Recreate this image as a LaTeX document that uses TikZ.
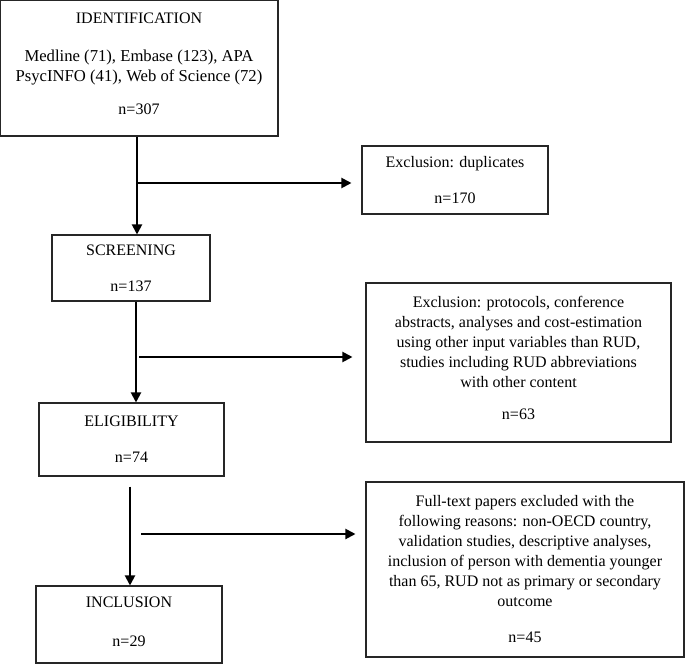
\documentclass[tikz,border=0pt]{standalone}
\usepackage{fontspec}
\setmainfont{Liberation Serif}
\usetikzlibrary{arrows.meta}

\begin{document}
\begin{tikzpicture}[x=0.75pt, y=-0.75pt]
  \tikzset{stage/.style = {rectangle, draw=black!85, line width=0.8pt, align=center,
                           inner sep=0pt, font=\fontsize{12}{15}\selectfont},
           flow/.style = {-{Triangle[width=7.5pt,length=7.5pt]}, line width=1.5pt}}
  \useasboundingbox (0,0) rectangle (685,664);
  % left column
  \node[stage, minimum width=208.5pt, minimum height=102pt] (ident) at (139,68)
    {IDENTIFICATION\\[13.5pt] {\fontsize{12.5}{15}\selectfont Medline (71), Embase (123), APA}\\
     {\fontsize{12.5}{15}\selectfont PsycINFO (41), Web of Science (72)}\\[9.75pt] n=307\\[-8pt]\mbox{}};
  \node[stage, minimum width=118.5pt, minimum height=49.5pt] (screen) at (131,268) {SCREENING\\[12pt] n=137};
  \node[stage, minimum width=138.75pt, minimum height=54.75pt] (elig) at (131.5,439.5) {ELIGIBILITY\\[12pt] n=74};
  \node[stage, minimum width=139.5pt, minimum height=57.75pt] (incl) at (129,624.5) {INCLUSION\\[14pt] n=29\\[-10.5pt]\mbox{}};
  % right column
  \node[stage, minimum width=139.5pt, minimum height=51pt] (dupl) at (455,180) {Exclusion: duplicates\\[12pt] n=170};
  \node[stage, minimum width=228.75pt, minimum height=119.25pt] (proto) at (518.5,362.5)
    {Exclusion: protocols, conference\\ abstracts, analyses and cost-estimation\\ using other input variables than RUD,\\
     studies including RUD abbreviations\\ with other content\\[9pt] n=63\\[-8pt]\mbox{}};
  \node[stage, minimum width=238.5pt, minimum height=131.25pt] (fulltxt) at (525,569.5)
    {Full-text papers excluded with the\\ following reasons: non-OECD country,\\ validation studies, descriptive analyses,\\
     inclusion of person with dementia younger\\ than 65, RUD not as primary or secondary\\ outcome\\[12pt] n=45};
  % branch points
  \coordinate (b1) at (137,183);
  \coordinate (b2) at (136,357);
  \coordinate (b3) at (130,534);
  \draw[flow] (ident.south -| b1) -- (screen.north -| b1);
  \draw[flow] (screen.south -| b2) -- (elig.north -| b2);
  \draw[flow] ([yshift=-7.5pt]elig.south -| b3) -- (incl.north -| b3);
  \draw[flow] (b1) -- ([xshift=-7.5pt]b1 -| dupl.west);
  \draw[flow] ([xshift=2.25pt]b2) -- ([xshift=-9.75pt]b2 -| proto.west);
  \draw[flow] ([xshift=8.25pt]b3) -- ([xshift=-7.5pt]b3 -| fulltxt.west);
\end{tikzpicture}
\end{document}
